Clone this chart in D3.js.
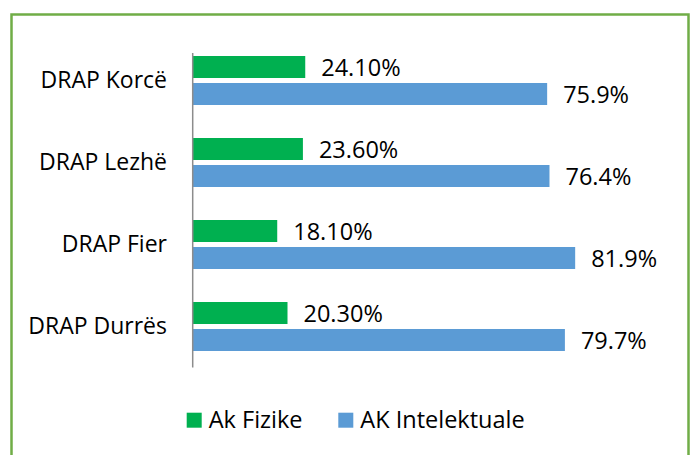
<!DOCTYPE html>
<html>
<head>
<meta charset="utf-8">
<script src="https://cdn.jsdelivr.net/npm/d3@7"></script>
<style>
  body { margin: 0; background: #fff; }
  text { font-family: "Open Sans", sans-serif; fill: #000; }
</style>
</head>
<body>
<div id="chart"></div>
<script>
// data
var categories = ["DRAP Korcë", "DRAP Lezhë", "DRAP Fier", "DRAP Durrës"];
var seriesNames = ["Ak Fizike", "AK Intelektuale"];
var fizike = [24.1, 23.6, 18.1, 20.3];
var intelektuale = [75.9, 76.4, 81.9, 79.7];
var colors = ["#00B050", "#5B9BD5"];

var svgWidth = 691;
var svgHeight = 455;

var svg = d3.select("#chart")
  .append("svg")
  .attr("width", svgWidth)
  .attr("height", svgHeight);

// green frame round the chart
svg.append("rect")
  .attr("x", 11.5)
  .attr("y", 14.5)
  .attr("width", 677)
  .attr("height", 460)
  .attr("fill", "none")
  .attr("stroke", "#70AD47")
  .attr("stroke-width", 2.5);

// scales
var xScale = d3.scaleLinear()
  .domain([0, 100])
  .range([192.7, 659.7]);

var yScale = d3.scaleBand()
  .domain(categories)
  .range([39.5, 367.5]);

var subScale = d3.scaleBand()
  .domain([0, 1])
  .range([-24.5, 24.5])
  .paddingInner(0.185);

var rows = categories.map(function(c, i) {
  return { cat: c, values: [fizike[i], intelektuale[i]] };
});

// bars
var groups = svg.selectAll(".row")
  .data(rows)
  .enter()
  .append("g")
  .attr("class", "row")
  .attr("transform", d => `translate(0, ${yScale(d.cat) + yScale.bandwidth() / 2})`);

groups.selectAll("rect")
  .data(d => d.values)
  .enter()
  .append("rect")
  .attr("x", xScale(0))
  .attr("y", (d, i) => subScale(i))
  .attr("width", d => xScale(d) - xScale(0))
  .attr("height", subScale.bandwidth())
  .attr("fill", (d, i) => colors[i]);

// value labels
var fmt = [d3.format(".2f"), d3.format(".1f")];
groups.selectAll("text.value")
  .data(d => d.values)
  .enter()
  .append("text")
  .attr("class", "value")
  .attr("x", d => xScale(d) + 16)
  .attr("y", (d, i) => subScale(i) + subScale.bandwidth() / 2)
  .attr("dy", "0.38em")
  .attr("font-size", "23.5px")
  .text((d, i) => fmt[i](d) + "%");

// category labels
svg.selectAll("text.cat")
  .data(categories)
  .enter()
  .append("text")
  .attr("class", "cat")
  .attr("x", 167)
  .attr("y", d => yScale(d) + yScale.bandwidth() / 2)
  .attr("dy", "0.34em")
  .attr("text-anchor", "end")
  .attr("font-size", "23px")
  .text(d => d);

// vertical axis line
svg.append("line")
  .attr("x1", xScale(0))
  .attr("x2", xScale(0))
  .attr("y1", 53)
  .attr("y2", 367.5)
  .attr("stroke", "#8C8C8C")
  .attr("stroke-width", 1.5);

// legend
var legendX = [186.7, 338.3];
var legend = svg.selectAll(".legend")
  .data(seriesNames)
  .enter()
  .append("g")
  .attr("class", "legend")
  .attr("transform", (d, i) => `translate(${legendX[i]}, 412.7)`);

legend.append("rect")
  .attr("width", 15)
  .attr("height", 15)
  .attr("fill", (d, i) => colors[i]);

legend.append("text")
  .attr("x", 22)
  .attr("y", 15.6)
  .attr("font-size", "23.5px")
  .text(d => d);
</script>
</body>
</html>
